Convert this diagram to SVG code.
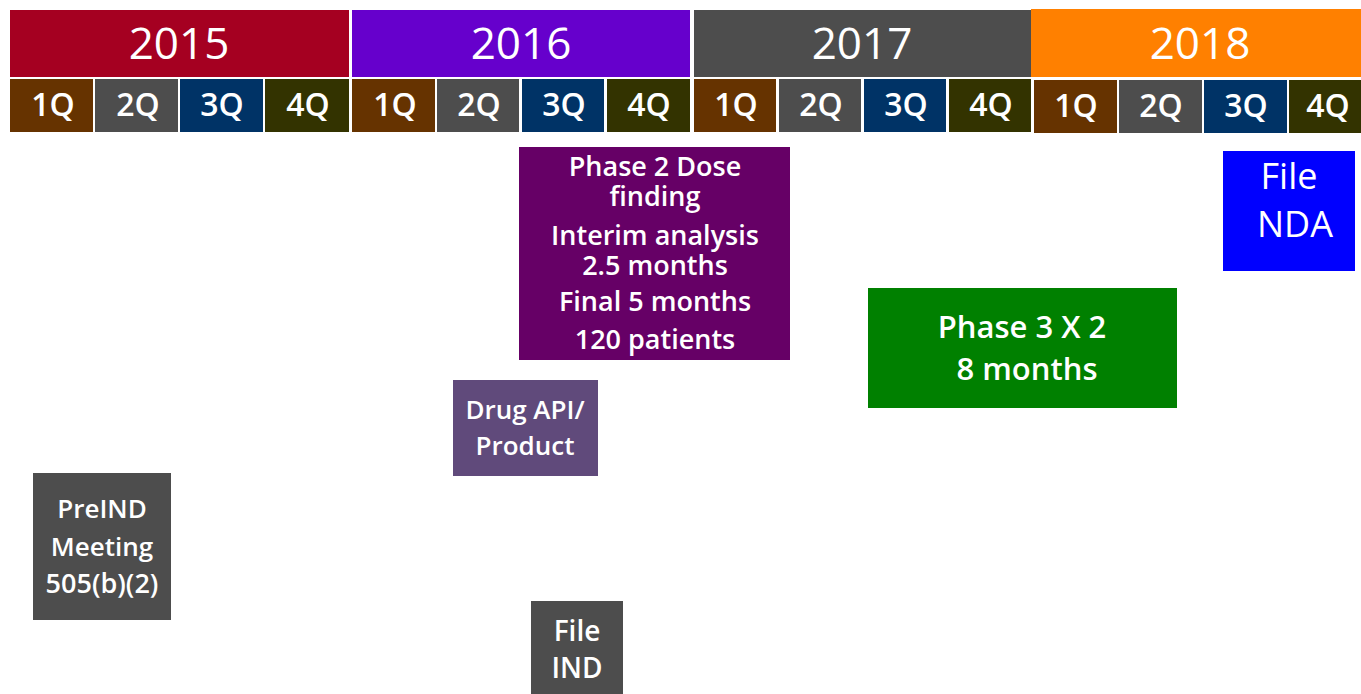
<svg xmlns="http://www.w3.org/2000/svg" width="1361" height="694" viewBox="0 0 1361 694">
<style>
text{font-family:"Open Sans","Noto Sans","DejaVu Sans",sans-serif;fill:#fff;text-anchor:middle}
.yr{font-size:44px}
.q{font-size:32px;font-weight:600}
.n{font-size:26px;font-weight:600}
.q1{fill:#663300}.q2{fill:#4d4d4d}.q3{fill:#003366}.q4{fill:#333300}
</style>
<rect width="1361" height="694" fill="#fff"/>
<g id="header">
<rect x="10" y="10" width="339" height="67" fill="#a50021"/>
<rect x="352" y="10" width="338" height="67" fill="#6600cc"/>
<rect x="694" y="10" width="337" height="67" fill="#4d4d4d"/>
<rect x="1031" y="9" width="330" height="68" fill="#ff8000"/>
<text class="yr" x="179" y="59">2015</text>
<text class="yr" x="521" y="59">2016</text>
<text class="yr" x="862" y="59">2017</text>
<text class="yr" x="1200" y="59">2018</text>
<rect class="q1" x="10" y="79" width="83" height="53"/>
<rect class="q2" x="95" y="79" width="83" height="53"/>
<rect class="q3" x="180" y="79" width="83" height="53"/>
<rect class="q4" x="265" y="79" width="84" height="53"/>
<rect class="q1" x="352" y="79" width="83" height="53"/>
<rect class="q2" x="437" y="79" width="82" height="53"/>
<rect class="q3" x="522" y="79" width="82" height="53"/>
<rect class="q4" x="607" y="79" width="83" height="53"/>
<rect class="q1" x="694" y="79" width="82" height="53"/>
<rect class="q2" x="779" y="79" width="82" height="53"/>
<rect class="q3" x="864" y="79" width="82" height="53"/>
<rect class="q4" x="949" y="79" width="82" height="53"/>
<rect class="q1" x="1034" y="80" width="83" height="53"/>
<rect class="q2" x="1119" y="80" width="83" height="53"/>
<rect class="q3" x="1204" y="80" width="83" height="53"/>
<rect class="q4" x="1289" y="80" width="72" height="53"/>
<text class="q" x="53" y="116">1Q</text>
<text class="q" x="138" y="116">2Q</text>
<text class="q" x="222" y="116">3Q</text>
<text class="q" x="308" y="116">4Q</text>
<text class="q" x="395" y="116">1Q</text>
<text class="q" x="479" y="116">2Q</text>
<text class="q" x="564" y="116">3Q</text>
<text class="q" x="649" y="116">4Q</text>
<text class="q" x="736" y="116">1Q</text>
<text class="q" x="821" y="116">2Q</text>
<text class="q" x="906" y="116">3Q</text>
<text class="q" x="991" y="116">4Q</text>
<text class="q" x="1076" y="117">1Q</text>
<text class="q" x="1161" y="117">2Q</text>
<text class="q" x="1246" y="117">3Q</text>
<text class="q" x="1328" y="117">4Q</text>
</g>
<g id="connectors"></g>
<g id="phase2">
<rect x="519" y="147" width="271" height="213" fill="#660066"/>
<text class="n" x="655" y="176" style="font-size:27px">Phase 2 Dose</text>
<text class="n" x="655" y="206" style="font-size:27px">finding</text>
<text class="n" x="655" y="245" style="font-size:27px">Interim analysis</text>
<text class="n" x="655" y="275" style="font-size:27px">2.5 months</text>
<text class="n" x="655" y="311" style="font-size:27px">Final 5 months</text>
<text class="n" x="655" y="349" style="font-size:27px">120 patients</text>
</g>
<g id="phase3">
<rect x="868" y="288" width="309" height="120" fill="#008000"/>
<text class="n" x="1022" y="338" style="font-size:31px">Phase 3 X 2</text>
<text class="n" x="1027" y="380" style="font-size:31px">8 months</text>
</g>
<g id="filenda">
<rect x="1223" y="151" width="132" height="120" fill="#0000ff"/>
<text x="1289" y="189" style="font-size:36px">File</text>
<text x="1295" y="237" style="font-size:36px">NDA</text>
</g>
<g id="drugapi">
<rect x="453" y="380" width="145" height="96" fill="#604a7b"/>
<text class="n" x="525" y="419">Drug API/</text>
<text class="n" x="525" y="455">Product</text>
</g>
<g id="preind">
<rect x="33" y="473" width="138" height="147" fill="#4d4d4d"/>
<text class="n" x="102" y="518">PreIND</text>
<text class="n" x="102" y="556">Meeting</text>
<text class="n" x="102" y="593" style="font-size:27px">505(b)(2)</text>
</g>
<g id="fileind">
<rect x="531" y="601" width="92" height="93" fill="#4d4d4d"/>
<text class="n" x="577" y="641" style="font-size:28px">File</text>
<text class="n" x="577" y="678" style="font-size:28px">IND</text>
</g>
</svg>
